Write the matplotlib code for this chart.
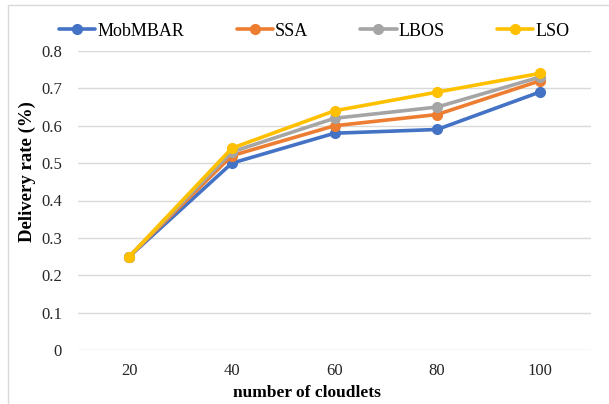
import matplotlib.pyplot as plt
from matplotlib.patches import Rectangle

plt.rcParams['font.family'] = ['Liberation Serif', 'DejaVu Serif']

cloudlets = ['20', '40', '60', '80', '100']
mobmbar = [0.25, 0.50, 0.58, 0.59, 0.69]
ssa = [0.25, 0.52, 0.60, 0.63, 0.72]
lbos = [0.25, 0.53, 0.62, 0.65, 0.73]
lso = [0.25, 0.54, 0.64, 0.69, 0.74]

series = [
    ('MobMBAR', mobmbar, '#4472C4'),
    ('SSA', ssa, '#ED7D31'),
    ('LBOS', lbos, '#A5A5A5'),
    ('LSO', lso, '#FFC000'),
]

W, H = 609, 404
fig = plt.figure(figsize=(W / 100, H / 100), dpi=100)
# axes box in pixels: left 78, right 591, top 51, bottom 350
ax = fig.add_axes([78 / W, 1 - 350 / H, (591 - 78) / W, (350 - 51) / H])

x = range(len(cloudlets))
for name, vals, col in series:
    ax.plot(x, vals, color=col, lw=2.6, marker='o', ms=7, label=name,
            solid_capstyle='round')

ax.set_xlim(-0.5, len(cloudlets) - 0.5)
ax.set_ylim(0, 0.8)
ax.set_yticks([i / 10 for i in range(9)])
ax.set_yticklabels(['0'] + [f'{i / 10:.1f}' for i in range(1, 9)])
ax.set_xticks(list(x))
ax.set_xticklabels(cloudlets)
ax.tick_params(length=0, labelsize=12, colors='#262626')
ax.tick_params(axis='y', pad=11.5)
ax.tick_params(axis='x', pad=9.5)
ax.grid(axis='y', color='#D9D9D9', lw=1)
ax.set_axisbelow(True)
for s in ax.spines.values():
    s.set_visible(False)

fig.text(307 / W, 1 - 393 / H, 'number of cloudlets', fontsize=12.5,
         fontweight='bold', ha='center', va='center')
fig.text(27 / W, 1 - 172 / H, 'Delivery rate (%)', fontsize=13.5,
         fontweight='bold', ha='center', va='center', rotation=90)

fig.legend(loc='center left', bbox_to_anchor=(59 / W, 1 - 31 / H), ncol=4,
           frameon=False, borderpad=0, borderaxespad=0,
           fontsize=13, handlelength=2.0, columnspacing=2.9, handletextpad=0.12)

fig.patches.append(Rectangle((8 / W, -0.1), 1.2, 1 - 5 / H + 0.1,
                             transform=fig.transFigure, fill=False,
                             edgecolor='#D9D9D9', lw=1))

fig.savefig('out.png', dpi=100)
